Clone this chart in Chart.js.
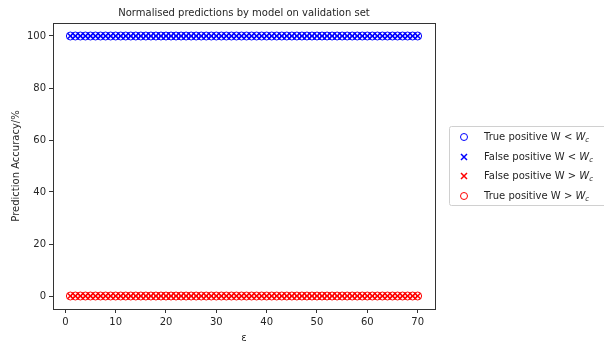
<!DOCTYPE html>
<html>
<head>
<meta charset="utf-8">
<script src="https://cdn.jsdelivr.net/npm/chart.js@4/dist/chart.umd.min.js"></script>
<style>
  html, body { margin: 0; padding: 0; background: #fff; }
  #wrap { width: 604px; height: 344px; }
</style>
</head>
<body>
<div id="wrap"><canvas id="grafico" width="604" height="344"></canvas></div>
<script>
// epsilon values on the x axis
const epsilon = [
    1, 2, 3, 4, 5, 6, 7, 8, 9, 10, 11, 12, 13, 14, 15, 16, 17, 18, 19, 20,
    21, 22, 23, 24, 25, 26, 27, 28, 29, 30, 31, 32, 33, 34, 35, 36, 37, 38, 39, 40,
    41, 42, 43, 44, 45, 46, 47, 48, 49, 50, 51, 52, 53, 54, 55, 56, 57, 58, 59, 60,
    61, 62, 63, 64, 65, 66, 67, 68, 69, 70
];

// normalised accuracy per class, in %
const truePosBelow = [
    100, 100, 100, 100, 100, 100, 100, 100, 100, 100, 100, 100, 100, 100, 100, 100, 100, 100, 100, 100,
    100, 100, 100, 100, 100, 100, 100, 100, 100, 100, 100, 100, 100, 100, 100, 100, 100, 100, 100, 100,
    100, 100, 100, 100, 100, 100, 100, 100, 100, 100, 100, 100, 100, 100, 100, 100, 100, 100, 100, 100,
    100, 100, 100, 100, 100, 100, 100, 100, 100, 100
];
const falsePosBelow = [
    100, 100, 100, 100, 100, 100, 100, 100, 100, 100, 100, 100, 100, 100, 100, 100, 100, 100, 100, 100,
    100, 100, 100, 100, 100, 100, 100, 100, 100, 100, 100, 100, 100, 100, 100, 100, 100, 100, 100, 100,
    100, 100, 100, 100, 100, 100, 100, 100, 100, 100, 100, 100, 100, 100, 100, 100, 100, 100, 100, 100,
    100, 100, 100, 100, 100, 100, 100, 100, 100, 100
];
const falsePosAbove = [
    0, 0, 0, 0, 0, 0, 0, 0, 0, 0, 0, 0, 0, 0, 0, 0, 0, 0, 0, 0,
    0, 0, 0, 0, 0, 0, 0, 0, 0, 0, 0, 0, 0, 0, 0, 0, 0, 0, 0, 0,
    0, 0, 0, 0, 0, 0, 0, 0, 0, 0, 0, 0, 0, 0, 0, 0, 0, 0, 0, 0,
    0, 0, 0, 0, 0, 0, 0, 0, 0, 0
];
const truePosAbove = [
    0, 0, 0, 0, 0, 0, 0, 0, 0, 0, 0, 0, 0, 0, 0, 0, 0, 0, 0, 0,
    0, 0, 0, 0, 0, 0, 0, 0, 0, 0, 0, 0, 0, 0, 0, 0, 0, 0, 0, 0,
    0, 0, 0, 0, 0, 0, 0, 0, 0, 0, 0, 0, 0, 0, 0, 0, 0, 0, 0, 0,
    0, 0, 0, 0, 0, 0, 0, 0, 0, 0
];

const xTicks = [0, 10, 20, 30, 40, 50, 60, 70];
const yTicks = [0, 20, 40, 60, 80, 100];

const series = [
    { nome: 'True positive W < ', valores: truePosBelow, cor: '#0000ff', estilo: 'circle' },
    { nome: 'False positive W < ', valores: falsePosBelow, cor: '#0000ff', estilo: 'crossRot' },
    { nome: 'False positive W > ', valores: falsePosAbove, cor: '#ff0000', estilo: 'crossRot' },
    { nome: 'True positive W > ', valores: truePosAbove, cor: '#ff0000', estilo: 'circle' }
];

const fonte = '"DejaVu Sans", sans-serif';
const texto = '#262626';

function pontos(valores) {
    return valores.map((v, i) => ({ x: epsilon[i], y: v }));
}

// frame, title and the legend box to the right of the plot
const extras = {
    id: 'extras',
    afterDraw(chart) {
        const { ctx, chartArea: a } = chart;
        ctx.save();
        ctx.strokeStyle = '#333';
        ctx.lineWidth = 1;
        ctx.strokeRect(Math.round(a.left) + 0.5, Math.round(a.top) + 0.5,
            Math.round(a.right - a.left), Math.round(a.bottom - a.top));

        ctx.fillStyle = texto;
        ctx.font = '10px ' + fonte;
        ctx.textAlign = 'center';
        ctx.textBaseline = 'middle';
        ctx.fillText('Normalised predictions by model on validation set', (a.left + a.right) / 2, 13);

        // legend
        const lx = 449.5, ly = 126.5, lw = 170, lh = 79;
        ctx.strokeStyle = '#d0d0d0';
        ctx.fillStyle = 'rgba(255,255,255,0.9)';
        ctx.beginPath();
        ctx.roundRect(lx, ly, lw, lh, 2);
        ctx.fill();
        ctx.stroke();

        const linhas = [137, 157, 176, 196];
        series.forEach((s, i) => {
            const y = linhas[i];
            ctx.strokeStyle = s.cor;
            ctx.lineWidth = s.estilo === 'circle' ? 1 : 1.5;
            ctx.beginPath();
            if (s.estilo === 'circle') {
                ctx.arc(464, y, 3.5, 0, Math.PI * 2);
            } else {
                ctx.moveTo(461, y - 3); ctx.lineTo(467, y + 3);
                ctx.moveTo(467, y - 3); ctx.lineTo(461, y + 3);
            }
            ctx.stroke();

            ctx.fillStyle = texto;
            ctx.textAlign = 'left';
            ctx.font = '10px ' + fonte;
            ctx.fillText(s.nome, 484, y);
            let x = 484 + ctx.measureText(s.nome).width;
            ctx.font = 'italic 10px ' + fonte;
            ctx.fillText('W', x, y);
            x += ctx.measureText('W').width;
            ctx.font = 'italic 7px ' + fonte;
            ctx.fillText('c', x, y + 3);
        });
        ctx.restore();
    }
};

new Chart(document.getElementById('grafico'), {
    type: 'scatter',
    data: {
        datasets: series.map(s => ({
            label: s.nome,
            data: pontos(s.valores),
            pointStyle: s.estilo,
            pointRadius: 4,
            pointBorderWidth: s.estilo === 'circle' ? 1 : 1.5,
            pointBorderColor: s.cor,
            borderColor: s.cor,
            backgroundColor: 'rgba(0,0,0,0)',
            pointBackgroundColor: 'rgba(0,0,0,0)',
            order: s.estilo === 'circle' ? 2 : 1
        }))
    },
    options: {
        responsive: false,
        animation: false,
        layout: { padding: { top: 23, right: 169, left: 10, bottom: 0 } },
        plugins: { legend: { display: false }, title: { display: false }, tooltip: { enabled: false } },
        scales: {
            x: {
                type: 'linear',
                min: -2.45,
                max: 73.45,
                afterBuildTicks: sc => { sc.ticks = xTicks.map(v => ({ value: v })); },
                afterFit: sc => { sc.height = 35; },
                grid: { display: true, drawOnChartArea: false, drawTicks: true, tickLength: 4, color: '#333' },
                border: { display: false },
                ticks: { color: texto, font: { family: fonte, size: 10 }, padding: 3, maxRotation: 0 },
                title: { display: true, text: 'ε', color: texto, font: { family: fonte, size: 10 }, padding: { top: 2, bottom: 0 } }
            },
            y: {
                type: 'linear',
                min: -5,
                max: 105,
                afterBuildTicks: sc => { sc.ticks = yTicks.map(v => ({ value: v })); },
                afterFit: sc => { sc.width = 43; },
                grid: { display: true, drawOnChartArea: false, drawTicks: true, tickLength: 4, color: '#333' },
                border: { display: false },
                ticks: { color: texto, font: { family: fonte, size: 10 }, padding: 3 },
                title: { display: true, text: 'Prediction Accuracy/%', color: texto, font: { family: fonte, size: 10 }, padding: { top: 0, bottom: 2 } }
            }
        }
    },
    plugins: [extras]
});
</script>
</body>
</html>
